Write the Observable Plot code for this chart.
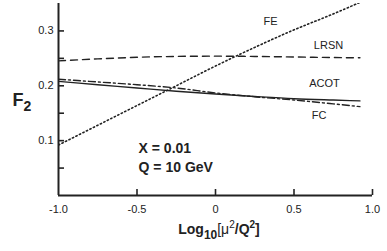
<!DOCTYPE html>
<html>
<head>
<meta charset="utf-8">
<script src="https://cdn.jsdelivr.net/npm/d3@7"></script>
<script src="https://cdn.jsdelivr.net/npm/@observablehq/plot@0.6"></script>
<style>
  html, body { margin: 0; padding: 0; background: #fff; }
  svg { font-family: "Liberation Sans", Arial, Helvetica, sans-serif; }
</style>
</head>
<body>
<div id="chart"></div>
<script>
const xs   = [-1, -0.75, -0.5, -0.25, 0, 0.25, 0.5, 0.75, 0.92];
const fe   = [0.092, 0.128, 0.164, 0.200, 0.236, 0.270, 0.302, 0.331, 0.352];
const lrsn = [0.2455, 0.249, 0.252, 0.2535, 0.254, 0.2535, 0.2525, 0.2515, 0.251];
const acot = [0.208, 0.202, 0.196, 0.190, 0.185, 0.1805, 0.1765, 0.174, 0.1725];
const fc   = [0.212, 0.207, 0.202, 0.196, 0.187, 0.180, 0.174, 0.167, 0.162];

const yMajor = [0.1, 0.2, 0.3];
const yMinor = [0.05, 0.15, 0.25];
const xTicks = [-1.0, -0.5, 0, 0.5, 1.0];
const xTickLabels = ["-1.0", "-0.5", "0", "0.5", "1.0"];

const seriesNames = ["FE", "LRSN", "ACOT", "FC"];
const labelX = [0.35, 0.72, 0.694, 0.66];
const labelY = [0.317, 0.273, 0.204, 0.146];

const noteText = ["X = 0.01", "Q = 10 GeV"];
const noteX = [-0.49, -0.49];
const noteY = [0.0857, 0.051];

const toRows = vals => xs.map((x, i) => ({x, y: vals[i]}));
const lineStyle = {stroke: "#222", strokeWidth: 1.4, clip: true, curve: "monotone-x"};

const ink = "#222";
const chart = Plot.plot({
  width: 387,
  height: 251,
  marginLeft: 58,
  marginRight: 15,
  marginTop: 3,
  marginBottom: 56,
  style: {fontFamily: "Liberation Sans, Arial, Helvetica, sans-serif", background: "#fff"},
  x: {domain: [-1, 1]},
  y: {domain: [0, 0.35]},
  marks: [
    Plot.line(toRows(fe),   {x: "x", y: "y", ...lineStyle, strokeDasharray: "1.3,2.6", strokeWidth: 1.6}),
    Plot.line(toRows(lrsn), {x: "x", y: "y", ...lineStyle, strokeDasharray: "7,5"}),
    Plot.line(toRows(acot), {x: "x", y: "y", ...lineStyle}),
    Plot.line(toRows(fc),   {x: "x", y: "y", ...lineStyle, strokeDasharray: "7,3,2,3"}),
    Plot.axisY({ticks: yMajor.concat(yMinor), tickSize: -6, tickFormat: () => "", stroke: ink, strokeWidth: 1.6, label: null}),
    Plot.axisY({ticks: yMajor, tickSize: 0, tickPadding: 5, tickFormat: d3.format(".1f"), fontSize: 11, fill: ink, label: null}),
    Plot.axisX({ticks: xTicks.slice(1), tickSize: -6, tickFormat: () => "", stroke: ink, strokeWidth: 1.6, label: null}),
    Plot.axisX({ticks: xTicks, tickSize: 0, tickPadding: 10, tickFormat: (d, i) => xTickLabels[i], fontSize: 11, fill: ink, label: null}),
    Plot.ruleX([-1], {stroke: ink, strokeWidth: 2}),
    Plot.ruleY([0], {stroke: ink, strokeWidth: 2}),
    Plot.text(seriesNames, {x: (d, i) => labelX[i], y: (d, i) => labelY[i], text: d => d, fontSize: 11, fill: ink}),
    Plot.text(noteText, {x: (d, i) => noteX[i], y: (d, i) => noteY[i], text: d => d, textAnchor: "start", fontSize: 14, fontWeight: "bold", fill: ink, style: "letter-spacing:1px"})
  ]
});
document.getElementById("chart").appendChild(chart);

// Axis titles with sub/superscripts as real text
const svg = d3.select(chart);
const fy = svg.append("text")
  .attr("x", 22).attr("y", 106)
  .attr("font-size", 18).attr("font-weight", "bold").attr("fill", ink);
fy.append("tspan").text("F");
fy.append("tspan").attr("font-size", 14).attr("dy", 5).text("2");

const fx = svg.append("text")
  .attr("x", 219).attr("y", 234)
  .attr("text-anchor", "middle")
  .attr("font-size", 14).attr("font-weight", "bold").attr("fill", ink);
fx.append("tspan").text("Log");
fx.append("tspan").attr("font-size", 12).attr("dy", 5).text("10");
fx.append("tspan").attr("dy", -5).attr("font-weight", "normal").text("[μ");
fx.append("tspan").attr("font-size", 10).attr("dy", -6).attr("font-weight", "normal").text("2");
fx.append("tspan").attr("dy", 6).text("/Q");
fx.append("tspan").attr("font-size", 10).attr("dy", -6).text("2");
fx.append("tspan").attr("dy", 6).text("]");
</script>
</body>
</html>
